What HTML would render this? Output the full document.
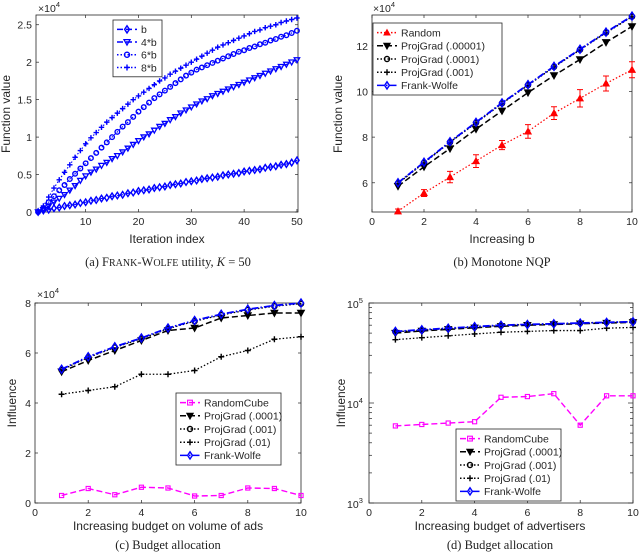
<!DOCTYPE html>
<html><head><meta charset="utf-8"><style>
body{margin:0;background:#fff;}
svg{display:block;font-family:"Liberation Sans",sans-serif;}
.cap{font-family:"Liberation Serif",serif;font-size:12.5px;}
</style></head><body>
<svg id="fig" width="640" height="557" viewBox="0 0 640 557" xmlns="http://www.w3.org/2000/svg"></svg>
<script>
// ---- data panel (a)
const aB=[0,.02,.03,.05,.06,.08,.09,.1,.12,.13,.15,.16,.18,.19,.21,.22,.23,.25,.26,.28,.29,.3,.32,.33,.34,.36,.37,.38,.4,.41,.42,.44,.45,.46,.47,.49,.5,.51,.52,.54,.55,.56,.57,.59,.6,.61,.63,.64,.66,.69];
const a4B=[0,.03,.08,.13,.18,.23,.29,.35,.42,.48,.53,.57,.62,.66,.71,.75,.8,.85,.9,.95,1.0,1.04,1.09,1.14,1.18,1.23,1.27,1.32,1.36,1.4,1.44,1.48,1.51,1.55,1.58,1.61,1.64,1.67,1.7,1.73,1.76,1.79,1.82,1.85,1.88,1.91,1.94,1.97,2.0,2.03];
const a6B=[0,.05,.13,.21,.29,.36,.44,.51,.58,.65,.72,.79,.86,.93,1.0,1.07,1.14,1.2,1.27,1.34,1.4,1.46,1.52,1.57,1.62,1.67,1.72,1.77,1.82,1.86,1.9,1.93,1.96,1.99,2.02,2.05,2.08,2.11,2.14,2.16,2.19,2.21,2.24,2.26,2.29,2.31,2.34,2.36,2.39,2.42];
const a8B=[0,.08,.2,.32,.43,.53,.63,.73,.82,.91,.99,1.06,1.13,1.2,1.26,1.32,1.38,1.44,1.5,1.55,1.6,1.65,1.7,1.75,1.79,1.84,1.88,1.92,1.96,2.0,2.04,2.08,2.12,2.16,2.2,2.23,2.26,2.29,2.32,2.35,2.38,2.41,2.43,2.46,2.48,2.5,2.53,2.55,2.57,2.59];
const aXTicks=[10,20,30,40,50];
const aYTicks=[0,0.5,1,1.5,2,2.5];
// ---- data panel (b)
const bX=[1,2,3,4,5,6,7,8,9,10];
const bRandom=[4.75,5.55,6.25,6.95,7.65,8.25,9.05,9.7,10.35,10.95];
const bRandomErr=[0.1,0.15,0.25,0.28,0.2,0.3,0.28,0.38,0.33,0.35];
const bPG1=[5.85,6.7,7.5,8.35,9.15,9.95,10.7,11.4,12.15,12.85];
const bPG2=[5.98,6.88,7.78,8.63,9.48,10.28,11.08,11.83,12.58,13.28];
const bPG3=[5.97,6.87,7.77,8.62,9.47,10.27,11.07,11.82,12.57,13.27];
const bFW=[6.0,6.9,7.8,8.65,9.5,10.3,11.1,11.85,12.6,13.3];
const bXTicks=[0,2,4,6,8,10];
const bYTicks=[6,8,10,12];
// ---- data panel (c)
const cX=[1,2,3,4,5,6,7,8,9,10];
const cRand=[0.3,0.58,0.33,0.63,0.6,0.28,0.3,0.6,0.58,0.3];
const cPG1=[5.25,5.7,6.1,6.5,6.9,7.0,7.4,7.5,7.6,7.6];
const cPG2=[5.32,5.82,6.22,6.57,6.97,7.27,7.52,7.72,7.87,7.97];
const cPG3=[4.35,4.5,4.65,5.15,5.15,5.3,5.85,6.1,6.55,6.65];
const cFW=[5.35,5.85,6.25,6.6,7.0,7.3,7.55,7.75,7.9,8.0];
const cXTicks=[0,2,4,6,8,10];
const cYTicks=[0,2,4,6,8];
// ---- data panel (d)
const dX=[1,2,3,4,5,6,7,8,9,10];
const dRand=[5900,6100,6300,6500,11400,11600,12400,6000,11800,11800];
const dPG1=[50000,52500,54500,56500,58500,60000,61000,62000,63000,64000];
const dPG2=[51500,53500,55500,57500,59500,61000,62000,63000,64000,65000];
const dPG3=[43000,45000,47000,49000,51000,52000,53000,53000,56000,57000];
const dFW=[52000,54000,56000,58000,60000,61000,62000,63000,64000,65000];
const dXTicks=[0,2,4,6,8,10];
const dYTicks=[3,4,5];

const NS="http://www.w3.org/2000/svg";
const fig=document.getElementById('fig');
function mk(tag,attrs,parent,text){const e=document.createElementNS(NS,tag);for(const k in attrs)e.setAttribute(k,attrs[k]);if(text!==undefined)e.textContent=text;(parent||fig).appendChild(e);return e;}

function panel(name,L,R,T,B,xmin,xmax,ymin,ymax,log){
  const g=mk('g',{});
  
  
  const sx=v=>L+(v-xmin)/(xmax-xmin)*(R-L);
  const sy=log?(v=>B-(Math.log10(v)-ymin)/(ymax-ymin)*(B-T)):(v=>B-(v-ymin)/(ymax-ymin)*(B-T));
  mk('rect',{x:L,y:T,width:R-L,height:B-T,fill:'#fff',stroke:'#262626','stroke-width':0.8},g);
  return {g,sx,sy,L,R,T,B};
}
function xticks(p,ticks,labels){
  const gx=mk('g',{},p.g);
  
  
  ticks.forEach((t,i)=>{const x=p.sx(t);
    mk('line',{x1:x,x2:x,y1:p.B,y2:p.B-3,stroke:'#262626','stroke-width':0.7},gx);
    mk('line',{x1:x,x2:x,y1:p.T,y2:p.T+3,stroke:'#262626','stroke-width':0.7},gx);
    mk('text',{x:x,y:p.B+13,'text-anchor':'middle','font-size':10.5,fill:'#262626'},gx,labels?labels[i]:t);
  });
}
function yticks(p,ticks,labels,ypos){
  const gy=mk('g',{},p.g);
  
  
  ticks.forEach((t,i)=>{const y=ypos?ypos(t):p.sy(t);
    mk('line',{x1:p.L,x2:p.L+3,y1:y,y2:y,stroke:'#262626','stroke-width':0.7},gy);
    mk('line',{x1:p.R,x2:p.R-3,y1:y,y2:y,stroke:'#262626','stroke-width':0.7},gy);
    if(labels!==null) mk('text',{x:p.L-4,y:y+4,'text-anchor':'end','font-size':10.5,fill:'#262626'},gy,labels?labels[i]:t);
  });
}
function marker(parent,type,x,y,color,s){
  s=s||3;
  let e;
  if(type==='d') e=mk('polygon',{points:`${x},${y-s*1.2} ${x+s*0.8},${y} ${x},${y+s*1.2} ${x-s*0.8},${y}`,fill:'none',stroke:color,'stroke-width':1.4},parent);
  else if(type==='v') e=mk('polygon',{points:`${x-s},${y-s*0.8} ${x+s},${y-s*0.8} ${x},${y+s}`,fill:color==='#0000ff'?'none':color,stroke:color,'stroke-width':1.3},parent);
  else if(type==='^') e=mk('polygon',{points:`${x-s},${y+s*0.8} ${x+s},${y+s*0.8} ${x},${y-s}`,fill:color,stroke:color,'stroke-width':1},parent);
  else if(type==='o') e=mk('circle',{cx:x,cy:y,r:s*0.85,fill:'none',stroke:color,'stroke-width':1.4},parent);
  else if(type==='+'){e=mk('path',{d:`M${x-s},${y}H${x+s}M${x},${y-s}V${y+s}`,stroke:color,'stroke-width':1.4},parent);}
  else if(type==='s') e=mk('rect',{x:x-s*0.8,y:y-s*0.8,width:s*1.6,height:s*1.6,fill:'none',stroke:color,'stroke-width':1.1},parent);
  return e;
}
function series(p,name,xs,ys,color,dash,mtype,ms,width){
  const gs=mk('g',{},p.g);
  
  
  const pts=ys.map((v,i)=>p.sx(xs[i])+','+p.sy(v)).join(' ');
  mk('polyline',{points:pts,fill:'none',stroke:color,'stroke-width':width||1.3,'stroke-dasharray':dash},gs);
  ys.forEach((v,i)=>marker(gs,mtype,p.sx(xs[i]),p.sy(v),color,ms));
  return gs;
}
function legend(p,name,x,y,w,entries,rowH){
  const gl=mk('g',{},fig);
  
  
  mk('rect',{x:x,y:y,width:w,height:entries.length*rowH+6,fill:'#fff',stroke:'#262626','stroke-width':0.8},gl);
  entries.forEach((e,i)=>{const cy=y+3+rowH*(i+0.5);
    const ge=mk('g',{},gl);
    
    
    mk('line',{x1:x+4,x2:x+24,y1:cy,y2:cy,stroke:e.c,'stroke-width':1.5,'stroke-dasharray':e.dash},ge);
    marker(ge,e.m,x+14,cy,e.c,3);
    mk('text',{x:x+28,y:cy+3.8,'font-size':10.5,fill:'#262626'},ge,e.t);
  });
}
function label(text,x,y,rot,name,size){
  const t=mk('text',{x:x,y:y,'text-anchor':'middle','font-size':size||12,fill:'#262626',transform:rot?`rotate(-90 ${x} ${y})`:''},fig,text);
  
  
  return t;
}
function exp(x,y,base,e,name){
  const t=mk('text',{x:x,y:y,'font-size':10.5,fill:'#262626'},fig);
  
  
  mk('tspan',{},t,base);
  mk('tspan',{dy:-5,'font-size':7.5},t,e);
  return t;
}
function caption(x,y,html,name){
  const t=mk('text',{x:x,y:y,'text-anchor':'middle',class:'cap',fill:'#222'},fig);
  
  
  t.innerHTML=html;
}
const DASH='6,3', DOT='1.5,2', DASHDOT='7,2,1.5,2';

// ===== Panel (a)
const xa=aB.map((_,i)=>i+1);
const pa=panel('chart-a',36,298,15,212,0.6,50.2,0,2.63);
xticks(pa,aXTicks);yticks(pa,aYTicks);
series(pa,'series-b',xa,aB,'#0000ff',DASH,'d',2.7,1.1);
series(pa,'series-4b',xa,a4B,'#0000ff',DASH,'v',2.7,1.1);
series(pa,'series-6b',xa,a6B,'#0000ff',DOT,'o',2.7,1.1);
series(pa,'series-8b',xa,a8B,'#0000ff',DOT,'+',2.7,1.1);
legend(pa,'legend-a',113,20,49,[{t:'b',c:'#0000ff',m:'d',dash:DASH},{t:'4*b',c:'#0000ff',m:'v',dash:DASH},{t:'6*b',c:'#0000ff',m:'o',dash:DOT},{t:'8*b',c:'#0000ff',m:'+',dash:DOT}],12.7);
exp(38,12,'\u00d710','4','y-multiplier-a');
label('Function value',10,114,true,'y-axis-title-a');
label('Iteration index',167,243,false,'x-axis-title-a');
caption(168,266,'(a) F<tspan font-size="10">RANK</tspan>-W<tspan font-size="10">OLFE</tspan> utility, <tspan font-style="italic">K</tspan> = 50','caption-a');

// ===== Panel (b)
const pb=panel('chart-b',372,632,15,212,0,10,4.72,13.35);
xticks(pb,bXTicks);yticks(pb,bYTicks);
const geb=mk('g',{},pb.g);


bRandom.forEach((v,i)=>{const x=pb.sx(bX[i]);const y1=pb.sy(v-bRandomErr[i]),y2=pb.sy(v+bRandomErr[i]);
  mk('path',{d:`M${x},${y1}V${y2}M${x-3},${y1}H${x+3}M${x-3},${y2}H${x+3}`,stroke:'#ff0000','stroke-width':1},geb);});
series(pb,'series-random',bX,bRandom,'#ff0000',DOT,'^',3.2,1.2);
series(pb,'series-projgrad-00001',bX,bPG1,'#000',DASH,'v',3.2,1.5);
series(pb,'series-projgrad-0001',bX,bPG2,'#000',DOT,'o',3,1.3);
series(pb,'series-projgrad-001',bX,bPG3,'#000',DOT,'+',3,1.3);
series(pb,'series-frank-wolfe',bX,bFW,'#0000ff',DASHDOT,'d',3.3,1.8);
legend(pb,'legend-b',373,23,129,[{t:'Random',c:'#ff0000',m:'^',dash:DOT},{t:'ProjGrad (.00001)',c:'#000',m:'v',dash:DASH},{t:'ProjGrad (.0001)',c:'#000',m:'o',dash:DOT},{t:'ProjGrad (.001)',c:'#000',m:'+',dash:DOT},{t:'Frank-Wolfe',c:'#0000ff',m:'d',dash:DASHDOT}],13.2);
exp(373,12,'\u00d710','4','y-multiplier-b');
label('Function value',342,114,true,'y-axis-title-b');
label('Increasing  b',502,243,false,'x-axis-title-b');
caption(502,266,'(b) Monotone NQP','caption-b');

// ===== Panel (c)
const pc=panel('chart-c',35,301,303,503,0,10,0,8);
xticks(pc,cXTicks);yticks(pc,cYTicks);
series(pc,'series-randomcube',cX,cRand,'#ff00ff',DASH,'s',2.6,1.4);
series(pc,'series-projgrad-0001',cX,cPG1,'#000',DASH,'v',3.2,1.5);
series(pc,'series-projgrad-001',cX,cPG2,'#000',DOT,'o',3,1.3);
series(pc,'series-projgrad-01',cX,cPG3,'#000',DOT,'+',3,1.3);
series(pc,'series-frank-wolfe',cX,cFW,'#0000ff',DASHDOT,'d',3.3,1.8);
legend(pc,'legend-c',176,393,105,[{t:'RandomCube',c:'#ff00ff',m:'s',dash:DASH},{t:'ProjGrad (.0001)',c:'#000',m:'v',dash:DASH},{t:'ProjGrad (.001)',c:'#000',m:'o',dash:DOT},{t:'ProjGrad (.01)',c:'#000',m:'+',dash:DOT},{t:'Frank-Wolfe',c:'#0000ff',m:'d',dash:DASHDOT}],13.2);
exp(37,298,'\u00d710','4','y-multiplier-c');
label('Influence',16,403,true,'y-axis-title-c');
label('Increasing budget on volume of ads',168,530,false,'x-axis-title-c');
caption(168,549,'(c)  Budget allocation','caption-c');

// ===== Panel (d)
const pd=panel('chart-d',369,633,303,503,0,10,3,5,true);
xticks(pd,dXTicks);
const minor=[];for(let d=3;d<5;d++)for(let k=2;k<=9;k++)minor.push(d+Math.log10(k));
const ylog=v=>pd.B-(v-3)/2*(pd.B-pd.T);
yticks(pd,minor.map(m=>m),null,ylog);
const gdy=mk('g',{},pd.g);


dYTicks.forEach(e=>{const y=ylog(e);
  mk('line',{x1:pd.L,x2:pd.L+5,y1:y,y2:y,stroke:'#262626','stroke-width':0.7},gdy);
  mk('line',{x1:pd.R,x2:pd.R-5,y1:y,y2:y,stroke:'#262626','stroke-width':0.7},gdy);
  const t=mk('text',{x:pd.L-22,y:y+5,'font-size':10.5,fill:'#262626'},gdy);
  mk('tspan',{},t,'10');mk('tspan',{dy:-5,'font-size':7.5},t,String(e));
});
series(pd,'series-randomcube',dX,dRand,'#ff00ff',DASH,'s',2.6,1.4);
series(pd,'series-projgrad-0001',dX,dPG1,'#000',DASH,'v',3.2,1.5);
series(pd,'series-projgrad-001',dX,dPG2,'#000',DOT,'o',3,1.3);
series(pd,'series-projgrad-01',dX,dPG3,'#000',DOT,'+',3,1.3);
series(pd,'series-frank-wolfe',dX,dFW,'#0000ff',DASHDOT,'d',3.3,1.8);
legend(pd,'legend-d',456,429,105,[{t:'RandomCube',c:'#ff00ff',m:'s',dash:DASH},{t:'ProjGrad (.0001)',c:'#000',m:'v',dash:DASH},{t:'ProjGrad (.001)',c:'#000',m:'o',dash:DOT},{t:'ProjGrad (.01)',c:'#000',m:'+',dash:DOT},{t:'Frank-Wolfe',c:'#0000ff',m:'d',dash:DASHDOT}],13.2);
label('Influence',345,403,true,'y-axis-title-d');
label('Increasing budget of advertisers',500,530,false,'x-axis-title-d');
caption(500,549,'(d) Budget allocation','caption-d');
</script>
</body></html>
